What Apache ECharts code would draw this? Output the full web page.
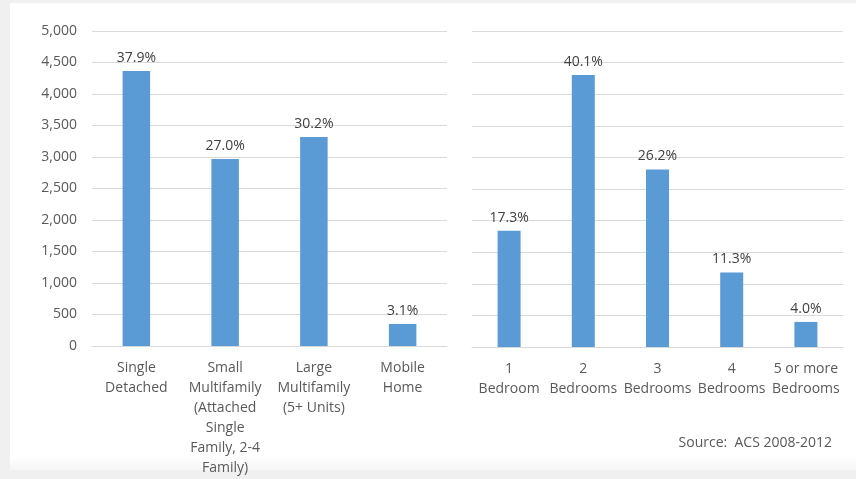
<!DOCTYPE html>
<html>
<head>
<meta charset="utf-8">
<script src="https://cdn.jsdelivr.net/npm/echarts@6/dist/echarts.min.js"></script>
<style>
html,body{margin:0;padding:0;background:#f0f0f0;}
#c{width:856px;height:479px;}
</style>
</head>
<body>
<div id="c"></div>
<script>
// Data
var typeCategories = ['Single\nDetached', 'Small\nMultifamily\n(Attached\nSingle\nFamily, 2-4\nFamily)', 'Large\nMultifamily\n(5+ Units)', 'Mobile\nHome'];
var typeValues = [4365, 2968, 3317, 349];
var typeShares = ['37.9%', '27.0%', '30.2%', '3.1%'];

var bedroomCategories = ['1\nBedroom', '2\nBedrooms', '3\nBedrooms', '4\nBedrooms', '5 or more\nBedrooms'];
var bedroomValues = [1841, 4302, 2810, 1180, 397];
var bedroomShares = ['17.3%', '40.1%', '26.2%', '11.3%', '4.0%'];

var yTicks = [0, 500, 1000, 1500, 2000, 2500, 3000, 3500, 4000, 4500, 5000];
var sourceText = 'Source:  ACS 2008-2012';

var FONT = '"Open Sans", "Noto Sans", sans-serif';
var barColor = '#5b9bd5';
var gridColor = '#d9d9d9';
var textColor = '#595959';

function seriesData(vals, shares) {
  return vals.map(function (v, i) { return { value: v, share: shares[i] }; });
}

var chart = echarts.init(document.getElementById('c'), null, { renderer: 'canvas' });
var option = {
  backgroundColor: '#f0f0f0',
  animation: false,
  graphic: [
    { type: 'rect', z: -10, shape: { x: 10, y: 3, width: 846, height: 467 }, style: { fill: '#ffffff' } },
    { type: 'rect', z: -9, shape: { x: 10, y: 455, width: 846, height: 15 },
      style: { fill: new echarts.graphic.LinearGradient(0, 0, 0, 1, [{ offset: 0, color: 'rgba(248,248,248,0)' }, { offset: 1, color: '#f6f6f6' }]) } },
    { type: 'text', right: 24, top: 436, style: { text: sourceText, font: '14px ' + FONT, fill: textColor } }
  ],
  grid: [
    { left: 92, top: 31, width: 355, height: 315 },
    { left: 472, top: 31, width: 371, height: 316 }
  ],
  xAxis: [
    { type: 'category', gridIndex: 0, data: typeCategories,
      axisLine: { lineStyle: { color: gridColor } }, axisTick: { show: false },
      axisLabel: { interval: 0, color: textColor, fontFamily: FONT, fontSize: 14, lineHeight: 20, margin: 12 } },
    { type: 'category', gridIndex: 1, data: bedroomCategories,
      axisLine: { lineStyle: { color: gridColor } }, axisTick: { show: false },
      axisLabel: { interval: 0, color: textColor, fontFamily: FONT, fontSize: 14, lineHeight: 20, margin: 12 } }
  ],
  yAxis: [
    { type: 'value', gridIndex: 0, min: yTicks[0], max: yTicks[yTicks.length - 1], interval: yTicks[1] - yTicks[0],
      axisLine: { show: false }, axisTick: { show: false },
      splitLine: { lineStyle: { color: gridColor } },
      axisLabel: { color: textColor, fontFamily: FONT, fontSize: 14, margin: 15,
        formatter: function (v) { return v.toLocaleString('en-US'); } } },
    { type: 'value', gridIndex: 1, min: yTicks[0], max: yTicks[yTicks.length - 1], interval: yTicks[1] - yTicks[0],
      axisLine: { show: false }, axisTick: { show: false },
      splitLine: { lineStyle: { color: gridColor } },
      axisLabel: { show: false } }
  ],
  series: [
    { type: 'bar', xAxisIndex: 0, yAxisIndex: 0, data: seriesData(typeValues, typeShares), barWidth: '31%',
      itemStyle: { color: barColor },
      label: { show: true, position: 'top', distance: 6, color: '#404040', fontFamily: FONT, fontSize: 14,
        formatter: function (p) { return p.data.share; } } },
    { type: 'bar', xAxisIndex: 1, yAxisIndex: 1, data: seriesData(bedroomValues, bedroomShares), barWidth: '31%',
      itemStyle: { color: barColor },
      label: { show: true, position: 'top', distance: 6, color: '#404040', fontFamily: FONT, fontSize: 14,
        formatter: function (p) { return p.data.share; } } }
  ]
};
chart.setOption(option);
</script>
</body>
</html>
